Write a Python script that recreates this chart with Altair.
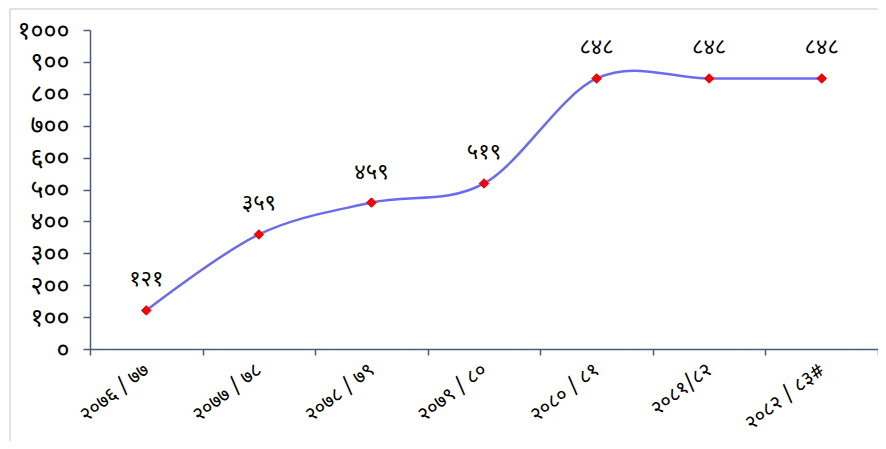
import altair as alt
import pandas as pd

years = ["२०७६ / ७७", "२०७७ / ७८", "२०७८ / ७९", "२०७९ / ८०", "२०८० / ८१", "२०८१/८२", "२०८२ / ८३#"]
values = [121, 359, 459, 519, 848, 848, 848]
value_labels = ["१२१", "३५९", "४५९", "५१९", "८४८", "८४८", "८४८"]
y_ticks = [0, 100, 200, 300, 400, 500, 600, 700, 800, 900, 1000]
y_tick_labels = ["०", "१००", "२००", "३००", "४००", "५००", "६००", "७००", "८००", "९००", "१०००"]

df = pd.DataFrame({"year": years, "value": values, "label": value_labels})

expr = "''"
for v, lab in zip(reversed(y_ticks), reversed(y_tick_labels)):
    expr = f"datum.value == {v} ? '{lab}' : ({expr})"

FONT = "Noto Sans Devanagari, Lohit Devanagari, Noto Sans, sans-serif"
AXIS_COLOR = "#4a5b7b"

x_enc = alt.X(
    "year:N",
    sort=None,
    scale=alt.Scale(type="band", paddingInner=0, paddingOuter=0),
    axis=alt.Axis(
        title=None,
        tickBand="extent",
        labelAngle=-38,
        labelAlign="right",
        labelBaseline="middle",
        labelPadding=12,
        tickSize=6,
        labelFontSize=20,
        labelFont=FONT,
        labelColor="black",
        domainColor=AXIS_COLOR,
        tickColor=AXIS_COLOR,
        domainWidth=1.5,
        tickWidth=1.5,
    ),
)
y_enc = alt.Y(
    "value:Q",
    scale=alt.Scale(domain=[0, 1000], nice=False),
    axis=alt.Axis(
        title=None,
        values=y_ticks,
        labelExpr=expr,
        grid=False,
        tickSize=7,
        labelPadding=14,
        labelFontSize=25,
        labelFont=FONT,
        labelColor="black",
        domainColor=AXIS_COLOR,
        tickColor=AXIS_COLOR,
        domainWidth=1.5,
        tickWidth=1.5,
    ),
)

base = alt.Chart(df)
one = pd.DataFrame({"a": [0]})

frame_left = alt.Chart(one).mark_rule(color="#d9d9d9", strokeWidth=1.5).encode(
    x=alt.value(-80), y=alt.value(-21), y2=alt.value(600)
)
frame_top = alt.Chart(one).mark_rule(color="#d9d9d9", strokeWidth=1.5).encode(
    x=alt.value(-80), x2=alt.value(1000), y=alt.value(-21)
)

line = base.mark_line(interpolate="cardinal", tension=0, color="#6b6bf2", strokeWidth=2.5).encode(
    x=x_enc, y=y_enc
)
points = base.mark_point(shape="diamond", filled=True, size=90, color="#ff0000", stroke="#e00000", strokeWidth=1, opacity=1).encode(
    x=x_enc, y=y_enc
)
labels = base.mark_text(dy=-31, fontSize=22, font=FONT, color="black", baseline="middle").encode(
    x=x_enc, y=y_enc, text="label:N"
)

chart = alt.layer(frame_left, frame_top, line, points, labels).properties(
    width=788,
    height=319,
    autosize=alt.AutoSizeParams(type="none"),
    padding={"left": 82, "top": 22, "right": 0, "bottom": 92},
).configure_view(stroke=None)

chart.save("out.html", embed_options={"renderer": "svg", "actions": False})
